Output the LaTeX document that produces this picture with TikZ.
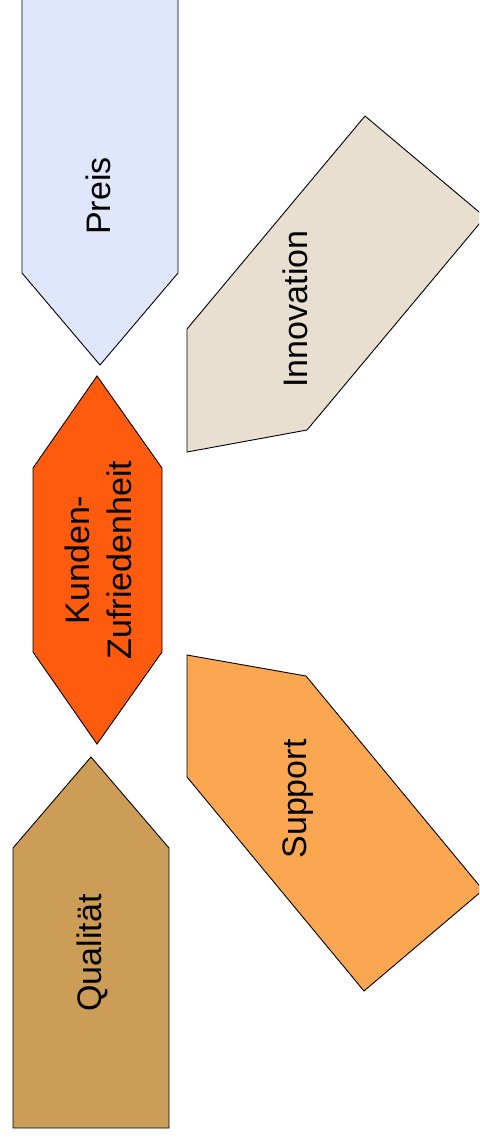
\documentclass[tikz,border=0pt]{standalone}
\usepackage{fontspec}
\setmainfont{Liberation Sans}
\definecolor{preisblue}{HTML}{E0E6FC}
\definecolor{innovbeige}{HTML}{E8DFD1}
\definecolor{kundenorange}{HTML}{FF5B0F}
\definecolor{supportorange}{HTML}{FBA651}
\definecolor{qualibrown}{HTML}{CC9D57}
\begin{document}
\begin{tikzpicture}[x=0.5pt,y=-0.5pt,
  arrowshape/.style={draw=black, line width=0.45pt},
  txtlbl/.style={rotate=90, anchor=base, font=\fontsize{17}{21}\selectfont, align=center, inner sep=0pt}]
\useasboundingbox (0,0) rectangle (479,1137);
\clip (0,0) rectangle (479,1137);

\draw[arrowshape, fill=preisblue] (22,-10) -- (22,273) -- (100,365) -- (178,273) -- (178,-10) -- cycle;
\node[txtlbl] (preis) at (110,196) {Preis};

\draw[arrowshape, fill=innovbeige] (365,116) -- (187,329) -- (187,452) -- (307,430) -- (485,217) -- cycle;
\node[txtlbl] (innov) at (307,309) {Innovation};

\draw[arrowshape, fill=kundenorange] (97,376) -- (162,468) -- (162,652) -- (97,744) -- (33,652) -- (33,468) -- cycle;
\node[txtlbl, anchor=center] (kunden) at (98,560) {Kunden-\\Zufriedenheit};

\draw[arrowshape, fill=supportorange] (187,655) -- (306,676) -- (483,890) -- (364,991) -- (187,777) -- cycle;
\node[txtlbl] (support) at (306,799) {Support};

\draw[arrowshape, fill=qualibrown] (91,757) -- (169,848) -- (169,1128) -- (13,1128) -- (13,848) -- cycle;
\node[txtlbl] (quali) at (101,953) {Qualität};
\end{tikzpicture}
\end{document}
